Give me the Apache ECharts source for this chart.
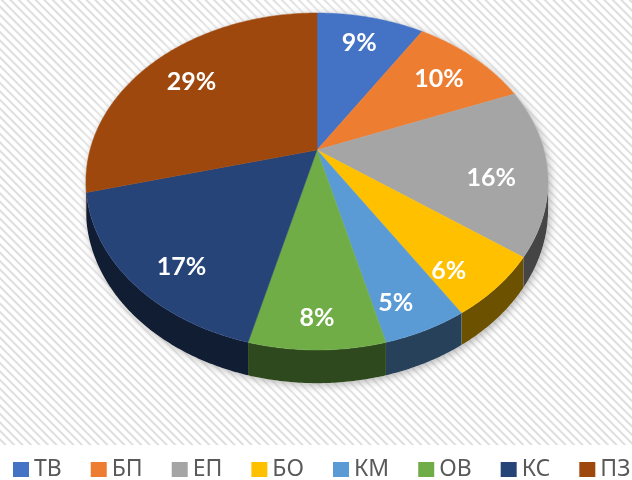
<!DOCTYPE html>
<html>
<head>
<meta charset="utf-8">
<script src="https://cdn.jsdelivr.net/npm/echarts@6/dist/echarts.min.js"></script>
<style>
  body { margin: 0; background: #fff; }
  #main {
    width: 632px; height: 480px;
    background-color: #fff;
    background-image: repeating-linear-gradient(45deg, #ffffff 0px, #ffffff 2.5px, #dedede 3.5px, #dedede 4.5px, #ffffff 5.5px, #ffffff 6px);
    background-size: 632px 445px;
    background-repeat: no-repeat;
  }
</style>
</head>
<body>
<div id="main"></div>
<script>
var names = ['ТВ', 'БП', 'ЕП', 'БО', 'КМ', 'ОВ', 'КС', 'ПЗ'];
var values = [9, 10, 16, 6, 5, 8, 17, 29];
var colors = ['#4472C4', '#ED7D31', '#A5A5A5', '#FFC000', '#5B9BD5', '#70AD47', '#264478', '#9E480E'];

var total = values.reduce(function (a, b) { return a + b; }, 0);

// pseudo 3d pie geometry (perspective tilt)
var CX = 317, CY = 150, RX = 227, RY = 162.6, PD = 5.35, DEPTH = 27;
var phiR = Math.acos(-1 / PD);          // right silhouette
var phiL = 2 * Math.PI - phiR;          // left silhouette

function proj(phi, r, h) {
    var u = r * Math.sin(phi), v = -r * Math.cos(phi);
    var w = PD / (PD - v);
    return [CX + RX * u * w, CY + RY * v * w + h * w];
}

function arc(a, b, h) {
    var pts = [], n = Math.max(2, Math.ceil((b - a) / 0.01));
    for (var k = 0; k <= n; k++) pts.push(proj(a + (b - a) * k / n, 1, h));
    return pts;
}

function shade(hex, f) {
    var n = parseInt(hex.slice(1), 16);
    var r = Math.round(((n >> 16) & 255) * f), g = Math.round(((n >> 8) & 255) * f), b = Math.round((n & 255) * f);
    return 'rgb(' + r + ',' + g + ',' + b + ')';
}

function sliceRenderer(i) {
    return function (params, api) {
        var before = 0;
        for (var k = 0; k < i; k++) before += values[k];
        var start = before / total * 2 * Math.PI;
        var end = start + api.value(0) / total * 2 * Math.PI;
        var children = [];

        // side wall, only the front part is visible
        var a = Math.max(start, phiR), b = Math.min(end, phiL);
        if (a < b) {
            var wall = arc(a, b, 0).concat(arc(a, b, DEPTH).reverse());
            children.push({
                type: 'polygon',
                shape: { points: wall },
                style: { fill: shade(colors[i], 0.42) }
            });
        }

        var top = [proj(0, 0, 0)].concat(arc(start, end, 0));
        children.push({
            type: 'polygon',
            shape: { points: top },
            style: { fill: colors[i], stroke: colors[i], lineWidth: 0.5 }
        });

        var mid = (start + end) / 2;
        var p = proj(mid, 0.76, 0);
        var v = -0.76 * Math.cos(mid);
        children.push({
            type: 'text',
            x: p[0],
            y: p[1] + 10 + 18 * v,
            style: {
                text: Math.round(api.value(0) / total * 100) + '%',
                fill: '#fff',
                font: 'bold 25px Lato, "Open Sans", sans-serif',
                align: 'center',
                verticalAlign: 'middle'
            }
        });
        return { type: 'group', children: children };
    };
}

var series = [{
    type: 'custom',
    name: 'halo',
    coordinateSystem: 'none',
    silent: true,
    z: 1,
    data: [0],
    renderItem: function () {
        var outline = arc(phiL, phiR + 2 * Math.PI, 0).concat(arc(phiR, phiL, DEPTH));
        return {
            type: 'group',
            children: [
                { type: 'polygon', shape: { points: outline },
                  style: { fill: '#fff', shadowBlur: 20, shadowColor: 'rgba(255,255,255,1)' } },
                { type: 'polygon', shape: { points: outline },
                  style: { fill: '#fff', shadowBlur: 8, shadowOffsetX: 2, shadowOffsetY: 2, shadowColor: 'rgba(0,0,0,0.3)' } }
            ]
        };
    }
}];

names.forEach(function (name, i) {
    series.push({
        type: 'custom',
        name: name,
        coordinateSystem: 'none',
        z: 2,
        itemStyle: { color: colors[i] },
        data: [values[i]],
        renderItem: sliceRenderer(i)
    });
});

var myChart = echarts.init(document.getElementById('main'), null, { renderer: 'canvas' });

var option = {
    animation: false,
    backgroundColor: 'transparent',
    legend: {
        data: names,
        left: 13,
        top: 458,
        padding: 0,
        icon: 'rect',
        itemWidth: 16,
        itemHeight: 15,
        itemGap: 29,
        textStyle: {
            color: '#595959',
            fontSize: 23,
            fontFamily: '"Noto Sans", sans-serif'
        }
    },
    series: series
};

myChart.setOption(option);
window.addEventListener('resize', myChart.resize);
</script>
</body>
</html>
